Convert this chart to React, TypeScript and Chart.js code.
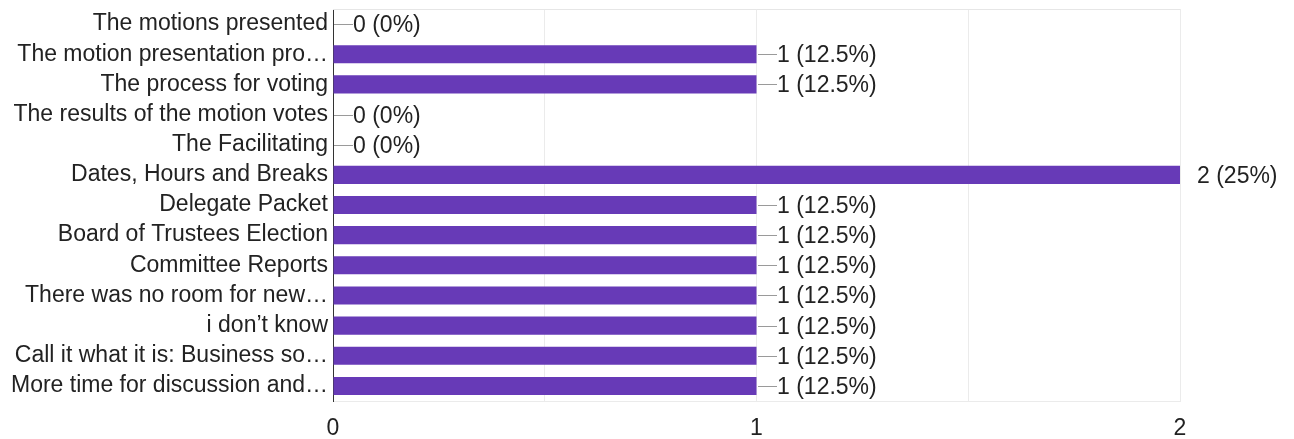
import React, { useEffect, useRef } from "react";
import { Chart, registerables } from "chart.js";

Chart.register(...registerables);

const categories = [
  "The motions presented",
  "The motion presentation pro…",
  "The process for voting",
  "The results of the motion votes",
  "The Facilitating",
  "Dates, Hours and Breaks",
  "Delegate Packet",
  "Board of Trustees Election",
  "Committee Reports",
  "There was no room for new…",
  "i don’t know",
  "Call it what it is: Business so…",
  "More time for discussion and…",
];
const counts = [0, 1, 1, 0, 0, 2, 1, 1, 1, 1, 1, 1, 1];
const respondents = 8;
const xTickLabels = ["0", "1", "2"];

const FONT = "'Liberation Sans', Arial, Helvetica, sans-serif";
const FS = 23;
const TEXT = "#222222";
const BAR = "#673ab7";

const labelPlugin = {
  id: "valueLabels",
  beforeDatasetsDraw(chart: any) {
    const { ctx, chartArea } = chart;
    ctx.save();
    ctx.strokeStyle = "#e6e6e6";
    ctx.lineWidth = 1;
    ctx.beginPath();
    ctx.moveTo(chartArea.left, Math.round(chartArea.top) + 0.5);
    ctx.lineTo(chartArea.right, Math.round(chartArea.top) + 0.5);
    ctx.stroke();
    ctx.restore();
  },
  afterDatasetsDraw(chart: any) {
    const { ctx, chartArea } = chart;
    const meta = chart.getDatasetMeta(0);
    ctx.save();
    ctx.font = `${FS}px ${FONT}`;
    ctx.textBaseline = "middle";
    ctx.textAlign = "left";
    meta.data.forEach((bar: any, i: number) => {
      const v = counts[i];
      const pct = Math.round((v / respondents) * 1000) / 10;
      const text = `${v} (${pct}%)`;
      const x0 = Math.round(bar.x);
      const y = Math.round(bar.y) + 0.5;
      const atEdge = x0 >= chartArea.right - 1;
      if (!atEdge) {
        ctx.strokeStyle = "#9a9a9a";
        ctx.lineWidth = 1;
        ctx.beginPath();
        ctx.moveTo(x0 + 1, y);
        ctx.lineTo(x0 + 20, y);
        ctx.stroke();
      }
      const off = atEdge ? 17 : 20;
      ctx.fillStyle = TEXT;
      ctx.fillText(text, x0 + off, y + 1);
    });
    ctx.restore();
  },
};

export default function App() {
  const ref = useRef<HTMLCanvasElement>(null);
  useEffect(() => {
    if (!ref.current) return;
    const chart = new Chart(ref.current, {
      type: "bar",
      data: {
        labels: categories,
        datasets: [
          {
            data: counts,
            backgroundColor: BAR,
            borderWidth: 0,
            barPercentage: 0.6,
            categoryPercentage: 1,
          },
        ],
      },
      options: {
        indexAxis: "y",
        animation: false,
        responsive: false,
        maintainAspectRatio: false,
        layout: { padding: { top: 9, right: 114, left: 0, bottom: 0 } },
        plugins: { legend: { display: false }, tooltip: { enabled: false } },
        scales: {
          x: {
            min: 0,
            max: 2,
            afterFit: (s: any) => {
              s.height = 38;
              s.paddingLeft = 0;
              s.paddingRight = 0;
            },
            ticks: {
              stepSize: 0.5,
              autoSkip: false,
              maxRotation: 0,
              padding: 14,
              color: TEXT,
              font: { family: FONT, size: FS },
              callback: (v: any) => {
                const n = Number(v);
                return Number.isInteger(n) ? xTickLabels[n] : "";
              },
            },
            grid: { color: "#ebebeb", drawTicks: false, lineWidth: 1 },
            border: { display: true, color: "#ebebeb" },
          },
          y: {
            afterFit: (s: any) => {
              s.width = 333;
              s.paddingTop = 0;
              s.paddingBottom = 0;
            },
            ticks: {
              padding: 5,
              autoSkip: false,
              color: TEXT,
              font: { family: FONT, size: FS },
            },
            grid: { display: false, drawTicks: false },
            border: { display: true, color: "#333333", width: 1 },
          },
        },
      },
      plugins: [labelPlugin],
    });
    return () => chart.destroy();
  }, []);
  return (
    <div style={{ position: "absolute", left: 0, top: 0, width: 1294, height: 439 }}>
      <canvas ref={ref} width={1294} height={439} style={{ display: "block" }} />
    </div>
  );
}
